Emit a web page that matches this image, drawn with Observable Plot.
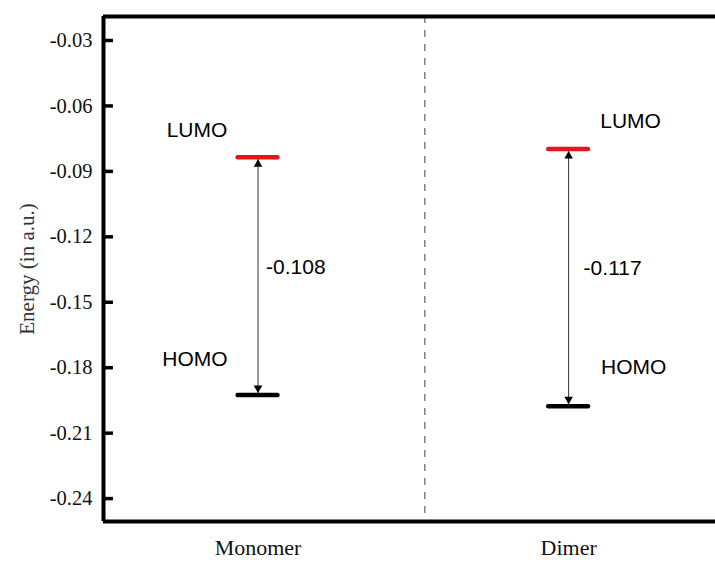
<!DOCTYPE html>
<html>
<head>
<meta charset="utf-8">
<script src="https://cdn.jsdelivr.net/npm/d3@7"></script>
<script src="https://cdn.jsdelivr.net/npm/@observablehq/plot@0.6"></script>
<style>
  html, body { margin: 0; padding: 0; background: #fff; overflow: hidden; }
</style>
</head>
<body>
<div id="chart"></div>
<script>
// ---- data ----
const systems = ["Monomer", "Dimer"];
const xPos = [1.01, 3.04];            // category positions on the x scale
const lumo = [-0.0835, -0.0797];      // LUMO energies (a.u.)
const homo = [-0.1925, -0.1977];      // HOMO energies (a.u.)
const gapLabels = ["-0.108", "-0.117"];
const yTicks = [-0.03, -0.06, -0.09, -0.12, -0.15, -0.18, -0.21, -0.24];
const dividerX = [2.1];
const yLabel = "Energy (in a.u.)";

const levels = systems.map((s, i) => ({i, x: xPos[i], lumo: lumo[i], homo: homo[i], gap: gapLabels[i], mid: (lumo[i] + homo[i]) / 2}));
const mono = levels.filter(d => d.i === 0);
const dim = levels.filter(d => d.i === 1);

const halfW = 0.13;
const serif = "Liberation Serif, Times New Roman, serif";
const sans = "Liberation Sans, Arial, sans-serif";
const labelStyle = {fontSize: 21, fontFamily: sans, fill: "#000"};

const chart = Plot.plot({
  width: 715,
  height: 563,
  marginLeft: 103,
  marginRight: 0,
  marginTop: 16,
  marginBottom: 42,
  style: {fontFamily: serif, background: "#fff", overflow: "visible"},
  x: {domain: [0, 4]},
  y: {domain: [-0.2505, -0.019]},
  marks: [
    // divider
    Plot.ruleX(dividerX, {stroke: "#808080", strokeWidth: 1.5, strokeDasharray: "7,7"}),
    // frame
    Plot.ruleX([0], {stroke: "#000", strokeWidth: 4}),
    Plot.ruleY([-0.2505, -0.019], {stroke: "#000", strokeWidth: 4}),
    // inward tick marks
    Plot.ruleY(yTicks, {y: d => d, x1: () => 0, x2: () => 0.065, stroke: "#000", strokeWidth: 3.5}),
    Plot.axisY(yTicks, {tickSize: 0, tickPadding: 11, fontSize: 20.5, fontFamily: serif, fill: "#111", tickFormat: d => d.toFixed(2), label: null}),
    Plot.axisX(xPos, {tickSize: 0, tickPadding: 18, fontSize: 22, fontFamily: serif, fill: "#111", tickFormat: (d, i) => systems[i], label: null}),
    Plot.text([yLabel], {frameAnchor: "left", rotate: -90, textAnchor: "middle", dx: -76, fontSize: 21, fontFamily: serif, fill: "#333"}),
    // connecting line
    Plot.link(levels, {x1: "x", x2: "x", y1: "lumo", y2: "homo", stroke: "#333", strokeWidth: 1}),
    // arrowheads
    Plot.dot(levels, {x: "x", y: "lumo", symbol: "triangle", r: 3.2, fill: "#000", stroke: null, dy: 7}),
    Plot.dot(levels, {x: "x", y: "homo", symbol: "triangle", r: 3.2, fill: "#000", stroke: null, dy: -7, rotate: 180}),
    // energy levels
    Plot.ruleY(levels, {y: "lumo", x1: d => d.x - halfW, x2: d => d.x + halfW, stroke: "#e3161d", strokeWidth: 4.5, strokeLinecap: "round"}),
    Plot.ruleY(levels, {y: "homo", x1: d => d.x - halfW, x2: d => d.x + halfW, stroke: "#000", strokeWidth: 4.5, strokeLinecap: "round"}),
    // labels
    Plot.text(mono, {x: "x", y: "lumo", text: () => "LUMO", dx: -61, dy: -27, ...labelStyle}),
    Plot.text(mono, {x: "x", y: "homo", text: () => "HOMO", dx: -63, dy: -36, ...labelStyle}),
    Plot.text(dim, {x: "x", y: "lumo", text: () => "LUMO", dx: 62, dy: -28, ...labelStyle}),
    Plot.text(dim, {x: "x", y: "homo", text: () => "HOMO", dx: 65, dy: -39, ...labelStyle}),
    Plot.text(mono, {x: "x", y: "mid", text: "gap", dx: 8, textAnchor: "start", dy: -9, ...labelStyle}),
    Plot.text(dim, {x: "x", y: "mid", text: "gap", dx: 15, textAnchor: "start", dy: -9, ...labelStyle})
  ]
});
document.getElementById("chart").appendChild(chart);
</script>
</body>
</html>
